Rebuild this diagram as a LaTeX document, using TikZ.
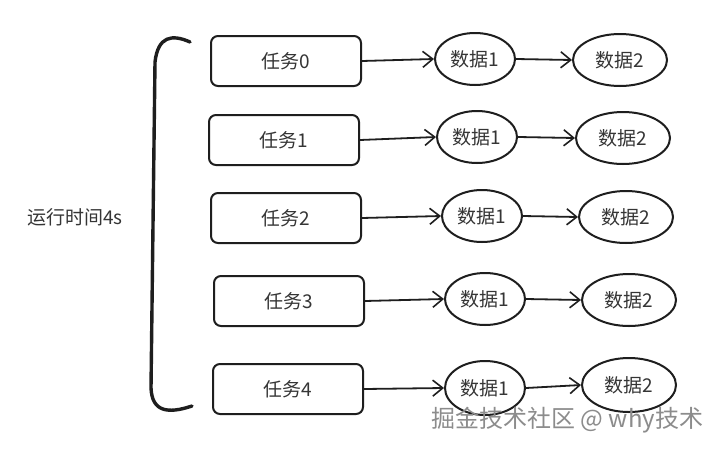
\documentclass[tikz,border=0pt]{standalone}
\usepackage{fontspec}
\newfontfamily\cjk{Noto Sans CJK SC}
\usetikzlibrary{arrows.meta,shapes.geometric}
\definecolor{ink}{HTML}{1E1E1E}
\tikzset{
  taskbox/.style={draw=ink,line width=2pt,rounded corners=7pt,minimum width=150pt,minimum height=50pt,inner sep=0pt,font=\cjk\fontsize{19}{19}\selectfont,text=ink!90},
  dataell/.style={draw=ink,line width=2pt,ellipse,inner sep=0pt,font=\cjk\fontsize{19}{19}\selectfont,text=ink!90},
  flow/.style={draw=ink,line width=1.8pt,-{Straight Barb[length=10pt,width=16pt,line width=1.6pt]}},
}
\begin{document}
\begin{tikzpicture}[x=1pt,y=-1pt]
\useasboundingbox[fill=white] (0,0) rectangle (727,450);
% bracket
\draw[ink,line width=3.4pt,line cap=round] (190,42) .. controls (172,34) and (158,36) .. (155,62) -- (151,388) .. controls (152,412) and (168,414) .. (192,406);
\node[font=\cjk\fontsize{19}{19}\selectfont,text=ink!90] (lbl) at (75,217) {运行时间4s};
% tasks
\node[taskbox] (t0) at (286,61) {任务0};
\node[taskbox] (t1) at (284,140) {任务1};
\node[taskbox] (t2) at (286,218) {任务2};
\node[taskbox] (t3) at (289,301) {任务3};
\node[taskbox] (t4) at (288,389) {任务4};
% data 1
\node[dataell,minimum width=80pt,minimum height=52pt] (a0) at (475,59) {数据1};
\node[dataell,minimum width=80pt,minimum height=52pt] (a1) at (477,137) {数据1};
\node[dataell,minimum width=80pt,minimum height=52pt] (a2) at (482,216) {数据1};
\node[dataell,minimum width=80pt,minimum height=52pt] (a3) at (485,299) {数据1};
\node[dataell,minimum width=80pt,minimum height=54pt] (a4) at (485,388) {数据1};
% data 2
\node[dataell,minimum width=94pt,minimum height=52pt] (b0) at (620,60) {数据2};
\node[dataell,minimum width=94pt,minimum height=52pt] (b1) at (623,138) {数据2};
\node[dataell,minimum width=94pt,minimum height=52pt] (b2) at (626,217) {数据2};
\node[dataell,minimum width=94pt,minimum height=52pt] (b3) at (629,300) {数据2};
\node[dataell,minimum width=94pt,minimum height=54pt] (b4) at (629,385) {数据2};
% arrows
\foreach \i in {0,...,4}{
  \draw[flow] (t\i.east) -- (a\i.west);
  \draw[flow] (a\i.east) -- (b\i.west);
}
% watermark
\node[font=\cjk\fontsize{24}{24}\selectfont,text=black!45,anchor=west] (wm) at (428,420) {掘金技术社区 @ why技术};
\end{tikzpicture}
\end{document}
